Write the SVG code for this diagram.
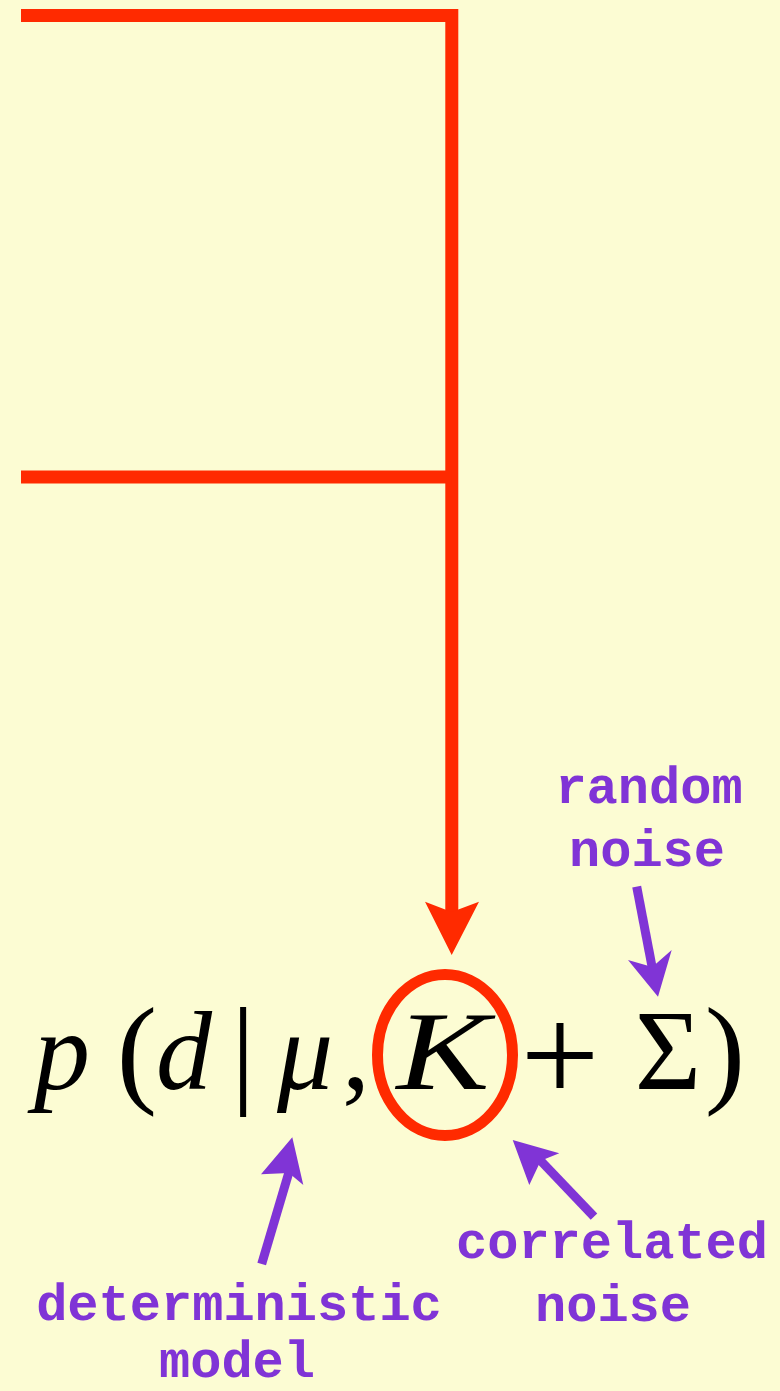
<svg xmlns="http://www.w3.org/2000/svg" width="780" height="1391" viewBox="0 0 780 1391">
<style>
.red{stroke:#FF2A00;stroke-width:13;fill:none;stroke-linecap:butt}
.redfill{fill:#FF2A00}
.pur{stroke:#8034D6;stroke-width:9;fill:none;stroke-linecap:butt}
.purfill{fill:#8034D6}
.math{font-family:"Liberation Serif","Times New Roman",serif;fill:#000;text-anchor:middle}
.it{font-style:italic}
.lbl{font-family:"Liberation Mono","Courier New",monospace;font-weight:bold;font-size:52px;fill:#8034D6;text-anchor:middle}
</style>
<rect x="0" y="0" width="780" height="1391" fill="#FCFCD3"/>
<g id="connectors">
  <polyline class="red" points="21,15.5 451.8,15.5 451.8,913"/>
  <line class="red" x1="21" y1="477" x2="451.8" y2="477"/>
  <polygon class="redfill" points="451.7,955 425,901.7 451.7,912 479,901.7"/>
  <line class="pur" x1="636.7" y1="886.7" x2="652.3" y2="968"/>
  <polygon class="purfill" points="658,996.7 628,960 652.3,967 671.7,950"/>
  <line class="pur" x1="261.7" y1="1264" x2="289" y2="1172"/>
  <polygon class="purfill" points="292.3,1137.3 261,1174.3 289,1173 303.3,1185"/>
  <line class="pur" x1="594" y1="1216.7" x2="540" y2="1160"/>
  <polygon class="purfill" points="512.7,1140 559.3,1153.3 540.7,1160.7 529.3,1185"/>
</g>
<g id="formula">
  <text class="math it" x="62" y="1089" font-size="112">p</text>
  <text class="math" x="137" y="1091" font-size="121">(</text>
  <text class="math it" x="184" y="1089" font-size="112">d</text>
  <text class="math" x="243" y="1091" font-size="121">|</text>
  <text class="math it" x="305" y="1089" font-size="112">μ</text>
  <text class="math" x="356" y="1089" font-size="112">,</text>
  <text class="math it" x="443" y="1089" font-size="112" textLength="93" lengthAdjust="spacingAndGlyphs">K</text>
  <text class="math" x="560" y="1102" font-size="140">+</text>
  <text class="math" x="668" y="1089" font-size="114">Σ</text>
  <text class="math" x="725" y="1091" font-size="121">)</text>
</g>
<g id="k-highlight">
  <ellipse cx="445" cy="1055" rx="67.5" ry="80.5" fill="none" stroke="#FF2A00" stroke-width="11"/>
</g>
<g id="label-random-noise">
  <text class="lbl" x="649" y="803">random</text>
  <text class="lbl" x="647" y="866">noise</text>
</g>
<g id="label-correlated-noise">
  <text class="lbl" x="612" y="1258">correlated</text>
  <text class="lbl" x="613" y="1321">noise</text>
</g>
<g id="label-deterministic-model">
  <text class="lbl" x="239" y="1320">deterministic</text>
  <text class="lbl" x="237" y="1377">model</text>
</g>
</svg>
